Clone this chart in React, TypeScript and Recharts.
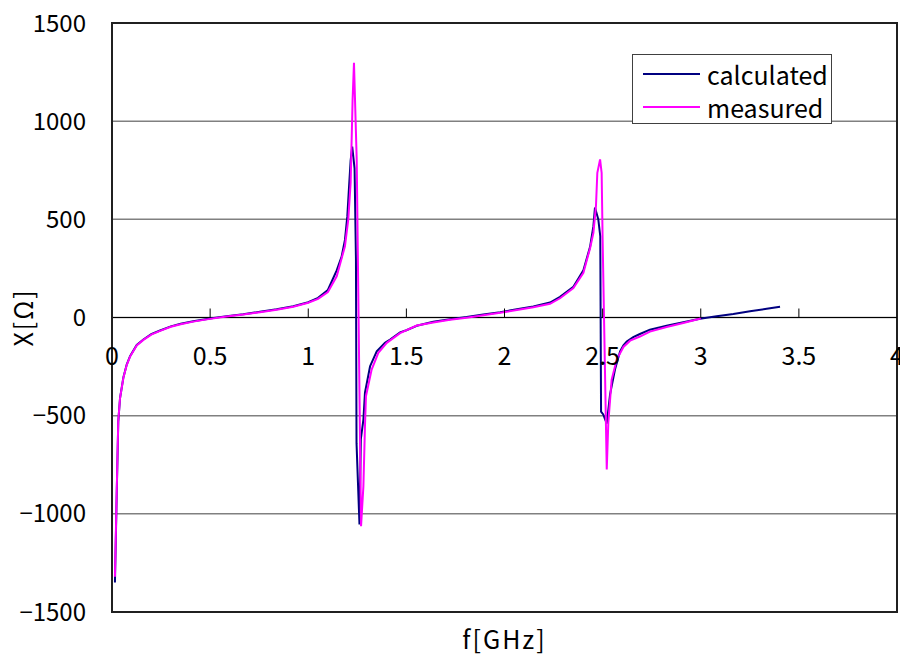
import React from 'react';
import {
  LineChart,
  Line,
  XAxis,
  YAxis,
  CartesianGrid,
  ReferenceLine,
  ReferenceArea,
} from 'recharts';

// Reactance X[Ω] against frequency f[GHz]
const calcF = [
  0.015, 0.024, 0.032, 0.041, 0.058, 0.075, 0.092, 0.126, 0.16, 0.2, 0.245, 0.3, 0.35, 0.414, 0.5,
  0.584, 0.669, 0.754, 0.839, 0.924, 1.0, 1.05, 1.1, 1.145, 1.17, 1.187, 1.199, 1.209, 1.216, 1.224,
  1.236, 1.243, 1.246, 1.261, 1.268, 1.281, 1.289, 1.315, 1.349, 1.391, 1.417, 1.468, 1.5, 1.553,
  1.637, 1.722, 1.807, 1.892, 1.978, 2.063, 2.147, 2.232, 2.283, 2.351, 2.402, 2.436, 2.453, 2.461,
  2.478, 2.488, 2.492, 2.503, 2.521, 2.538, 2.563, 2.589, 2.606, 2.623, 2.656, 2.69, 2.741, 2.826,
  2.911, 2.996, 3.081, 3.166, 3.251, 3.336, 3.404,
];
const calcX = [
  -1350, -900, -530, -410, -305, -240, -197, -140, -112, -85, -66, -45, -32, -19, -5,
  7, 17, 29, 42, 57, 78, 100, 140, 240, 310, 395, 515, 685, 800, 870,
  760, 300, -640, -1054, -620, -520, -383, -248, -172, -129, -112, -76, -65, -42,
  -22, -9, 2, 15, 27, 42, 56, 76, 105, 157, 240, 360, 465, 560,
  500, 414, -480, -494, -540, -390, -265, -172, -142, -122, -100, -84, -62, -42,
  -24, -6, 6, 18, 32, 44, 55,
];

const measF = [
  0.015, 0.024, 0.032, 0.041, 0.058, 0.075, 0.092, 0.126, 0.16, 0.2, 0.245, 0.3, 0.35, 0.414, 0.5,
  0.584, 0.669, 0.754, 0.839, 0.924, 1.0, 1.05, 1.1, 1.145, 1.187, 1.204, 1.216, 1.226, 1.233,
  1.247, 1.269, 1.281, 1.289, 1.294, 1.323, 1.357, 1.4, 1.468, 1.553, 1.637, 1.722, 1.807, 1.892,
  1.978, 2.063, 2.147, 2.232, 2.283, 2.351, 2.402, 2.436, 2.453, 2.466, 2.473, 2.487, 2.495, 2.5,
  2.521, 2.529, 2.546, 2.572, 2.606, 2.64, 2.69, 2.741, 2.826, 2.911, 3.0,
];
const measX = [
  -1320, -890, -525, -410, -307, -242, -199, -142, -114, -87, -68, -47, -34, -21, -7,
  5, 15, 27, 40, 55, 75, 95, 130, 210, 363, 499, 686, 1110, 1297,
  800, -1063, -860, -554, -401, -265, -180, -129, -80, -41, -25, -12, -1, 12,
  24, 38, 52, 70, 98, 150, 228, 353, 431, 567, 737, 805, 737, 397,
  -774, -536, -316, -214, -150, -118, -97, -72, -48, -28, -5,
];

const yTicks = [-1500, -1000, -500, 0, 500, 1000, 1500];
const xTicks = [0, 0.5, 1, 1.5, 2, 2.5, 3, 3.5, 4];

const calcData = calcF.map((f, i) => ({ f, x: calcX[i] }));
const measData = measF.map((f, i) => ({ f, x: measX[i] }));

const W = 908;
const H = 661;
const MARGIN = { top: 23, right: 11, left: 0, bottom: 0 };
const Y_AXIS_W = 112;
const X_AXIS_H = 49;
const Y_MIN = -1500;
const Y_MAX = 1500;
const PLOT_TOP = MARGIN.top;
const PLOT_BOTTOM = H - MARGIN.bottom - X_AXIS_H;
const ZERO_Y = PLOT_TOP + ((Y_MAX - 0) / (Y_MAX - Y_MIN)) * (PLOT_BOTTOM - PLOT_TOP);

const FONT = '"Noto Sans CJK JP", "Liberation Sans", sans-serif';
const FS = 25;
const TICK_FS = 24;
const NAVY = '#000080';
const MAGENTA = '#FF00FF';

const fmtY = (v: number) => (v < 0 ? `\u2212${Math.abs(v)}` : `${v}`);

// x-axis crosses at X = 0, so ticks and labels sit on the zero line
const XTick = (props: any) => {
  const { x, payload } = props;
  const v = payload.value as number;
  const showMark = v > 0 && v < 4;
  return (
    <g>
      {showMark && <line x1={x} x2={x} y1={ZERO_Y - 9} y2={ZERO_Y} stroke="#000" strokeWidth={1} />}
      <text x={x} y={ZERO_Y + 47} textAnchor="middle" fontSize={FS} fontFamily={FONT} fill="#000">
        {v}
      </text>
    </g>
  );
};

const legendItems = [
  { name: 'calculated', color: NAVY, top: 19 },
  { name: 'measured', color: MAGENTA, top: 52 },
];

const LegendBox = () => (
  <div
    style={{
      position: 'absolute',
      left: 632,
      top: 54,
      width: 200,
      height: 70,
      border: '1px solid #404040',
      background: '#fff',
      boxSizing: 'border-box',
      fontFamily: FONT,
      fontSize: FS,
      color: '#000',
    }}
  >
    {legendItems.map((it) => (
      <div
        key={it.name}
        style={{ position: 'absolute', left: 10, top: it.top - 15, height: 30, display: 'flex', alignItems: 'center', whiteSpace: 'nowrap' }}
      >
        <span style={{ display: 'inline-block', width: 57, height: 2, background: it.color, marginRight: 7 }} />
        <span style={{ lineHeight: '30px' }}>{it.name}</span>
      </div>
    ))}
  </div>
);

export default function App() {
  return (
    <div style={{ position: 'relative', width: W, height: H, margin: '-8px 0 0 -8px' }}>
      <LineChart width={W} height={H} margin={MARGIN}>
        <CartesianGrid vertical={false} stroke="#808080" strokeWidth={1.5} />
        <ReferenceArea x1={0} x2={4} y1={Y_MIN} y2={Y_MAX} fill="none" stroke="#202020" strokeWidth={2} ifOverflow="visible" />
        <XAxis
          type="number"
          dataKey="f"
          domain={[0, 4]}
          ticks={xTicks}
          axisLine={false}
          tickLine={false}
          height={X_AXIS_H}
          tick={<XTick />}
          interval={0}
          allowDataOverflow
          label={{ value: 'f[GHz]', position: 'insideBottom', offset: 12, fontSize: FS, fontFamily: FONT, fill: '#000', letterSpacing: 2 }}
        />
        <YAxis
          type="number"
          domain={[Y_MIN, Y_MAX]}
          ticks={yTicks}
          width={Y_AXIS_W}
          tickLine={false}
          axisLine={{ stroke: '#202020', strokeWidth: 2 }}
          tickMargin={20}
          tickFormatter={fmtY}
          tick={{ fontSize: TICK_FS, fontFamily: FONT, fill: '#000' }}
          interval={0}
          allowDataOverflow
          label={{ value: 'X[Ω]', angle: -90, position: 'insideLeft', offset: 24, fontSize: FS, fontFamily: FONT, fill: '#000', letterSpacing: 2, style: { textAnchor: 'middle' } }}
        />
        <ReferenceLine y={0} stroke="#000" strokeWidth={1.2} />
        <Line
          data={calcData}
          dataKey="x"
          name="calculated"
          stroke={NAVY}
          strokeWidth={2}
          dot={false}
          type="linear"
          isAnimationActive={false}
        />
        <Line
          data={measData}
          dataKey="x"
          name="measured"
          stroke={MAGENTA}
          strokeWidth={2}
          dot={false}
          type="linear"
          isAnimationActive={false}
        />
      </LineChart>
      <LegendBox />
    </div>
  );
}
